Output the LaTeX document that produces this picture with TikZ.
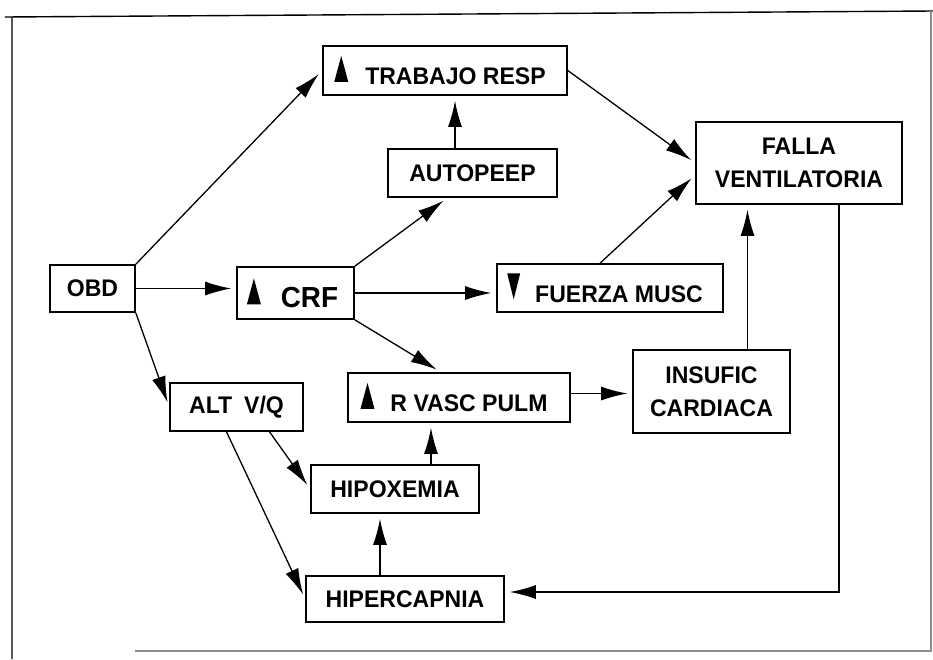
\documentclass[tikz,border=0pt]{standalone}
\usepackage{fontspec}
\setmainfont{Liberation Sans}[FakeStretch=0.96]
\usetikzlibrary{arrows.meta}
\newcommand\uptri{\tikz[baseline=-3pt,x=1pt,y=1pt]\fill (0,0)--(7,26)--(14,0)--cycle;}
\newcommand\dntri{\tikz[baseline=-3pt,x=1pt,y=1pt]\fill (0,26)--(6.5,0)--(13,26)--cycle;}
\tikzset{
  box/.style={draw, line width=1.6pt, inner sep=0pt, align=center,
    font=\bfseries\fontsize{24}{33}\selectfont},
  conn/.style={line width=1.3pt, -{Latex[length=26pt,width=14pt]}, shorten >=5pt},
}
\begin{document}
\begin{tikzpicture}[x=1pt,y=-1pt]
\useasboundingbox (0,0) rectangle (933,659);
% frame
\draw[line width=1.4pt] (12,659) -- (12,17) -- (5,17) -- (933,11);
\draw[line width=1.2pt, black!45] (135,651) -- (931,651) -- (931,11);
% nodes
\node[box, minimum width=244pt, minimum height=49pt] (trab) at (445,70.5) {\uptri\hspace{17pt}TRABAJO RESP\hspace{10pt}};
\node[box, minimum width=169pt, minimum height=48pt] (auto) at (472.5,173) {AUTOPEEP};
\node[box, minimum width=206pt, minimum height=82pt] (falla) at (799,163) {FALLA\\VENTILATORIA};
\node[box, minimum width=85pt, minimum height=47pt] (obd) at (92.5,288.5) {OBD};
\node[box, minimum width=117pt, minimum height=52pt, font=\bfseries\fontsize{29}{33}\selectfont] (crf) at (295.5,293) {\uptri\hspace{20pt}CRF\hspace{6pt}};
\node[box, minimum width=226pt, minimum height=48pt] (fuerza) at (610,288) {\dntri\hspace{15pt}FUERZA MUSC\hspace{10pt}};
\node[box, minimum width=222pt, minimum height=49pt] (rvasc) at (459,397.5) {\uptri\hspace{16pt}R VASC PULM\hspace{10pt}};
\node[box, minimum width=157pt, minimum height=83pt] (insuf) at (711.5,391.5) {INSUFIC\\CARDIACA};
\node[box, minimum width=133pt, minimum height=48pt] (alt) at (236.5,407) {ALT\hspace{12pt}V/Q};
\node[box, minimum width=168pt, minimum height=48pt] (hipox) at (395,489) {HIPOXEMIA};
\node[box, minimum width=198pt, minimum height=46pt] (hiperc) at (405,599) {HIPERCAPNIA};
% connectors
\draw[conn] (obd.north east) -- (trab.west);
\draw[conn] (obd.east) -- (obd.east -| crf.west);
\draw[conn] (obd.south east) -- (alt.west);
\draw[conn] (crf.north east) -- ([xshift=-25pt]auto.south);
\draw[conn] (crf.east) -- (crf.east -| fuerza.west);
\draw[conn] (crf.south east) -- ([xshift=-18pt]rvasc.north);
\draw[conn] ([xshift=-17.5pt]auto.north) -- ([xshift=-17.5pt]auto.north |- trab.south);
\draw[conn] (trab.east) -- (falla.west);
\draw[conn] ([xshift=-10pt]fuerza.north) -- ([yshift=-12pt]falla.west);
\draw[conn] ([xshift=36pt]insuf.north) -- ([xshift=36pt]insuf.north |- falla.south);
\coordinate (loop) at ([xshift=40pt]falla.south);
\draw[conn] (loop) |- ([yshift=7pt]hiperc.east);
\draw[conn] ([xshift=33pt]alt.south) -- (hipox.west);
\draw[conn] ([xshift=-10pt]alt.south) -- (hiperc.west);
\draw[conn] ([xshift=-25pt]hiperc.north) -- ([xshift=-25pt]hiperc.north |- hipox.south);
\draw[conn] ([xshift=36pt]hipox.north) -- ([xshift=36pt]hipox.north |- rvasc.south);
\draw[conn] ([yshift=4pt]rvasc.east) -- ([yshift=4pt]rvasc.east -| insuf.west);
\end{tikzpicture}
\end{document}
